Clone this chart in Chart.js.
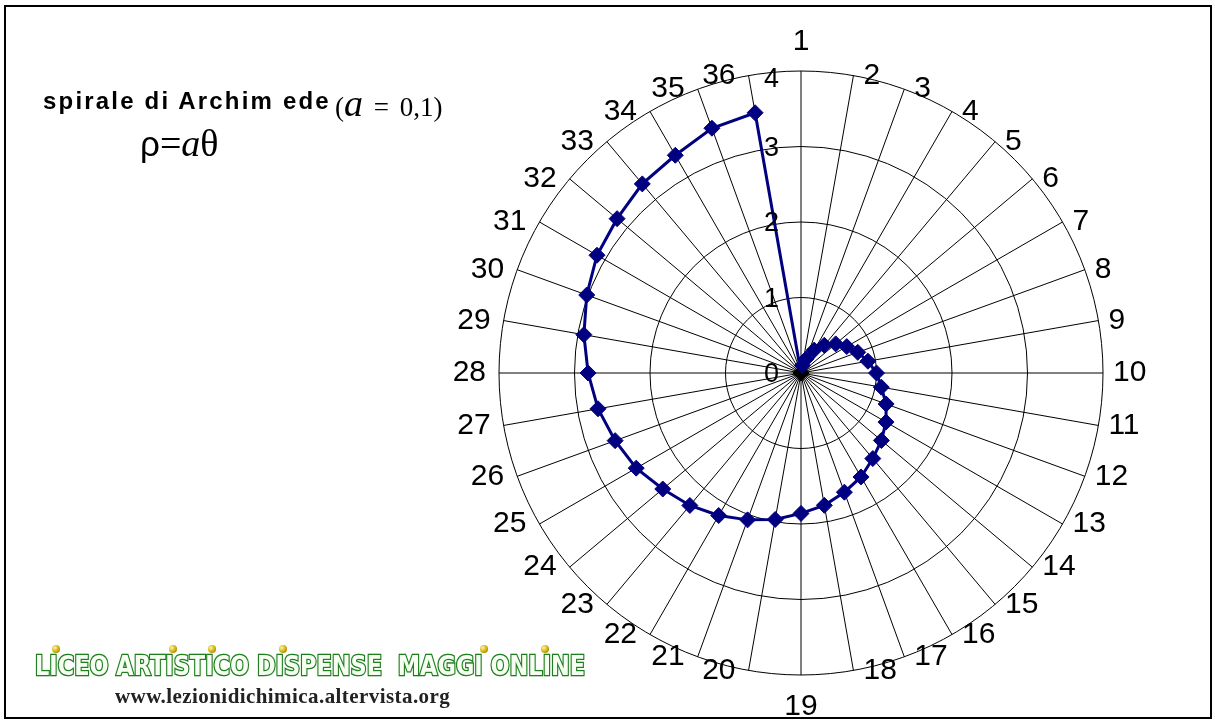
<!DOCTYPE html>
<html>
<head>
<meta charset="utf-8">
<script src="https://cdn.jsdelivr.net/npm/chart.js@4"></script>
<style>
  body { margin: 0; background: #fff; }
  #wrap { position: relative; width: 1215px; height: 722px; overflow: hidden; }
  #frame { position: absolute; left: 4px; top: 5px; width: 1204px; height: 710px; border: 2px solid #000; pointer-events: none; }
  canvas { position: absolute; left: 0; top: 0; }
  .txt { position: absolute; white-space: nowrap; color: #000; }
  #title { left: 43px; top: 87px; font: bold 24px "Liberation Sans", Arial, sans-serif; }
  #eq { left: 335px; top: 81px; font: 27px "Liberation Serif", "Times New Roman", serif; word-spacing: 4px; }
  #eq .it { font-style: italic; font-size: 38px; }
  #formula { left: 140px; top: 121px; font: 38px "Liberation Serif", "Times New Roman", serif; }
  #formula .rho { font-family: "Liberation Sans", Arial, sans-serif; font-size: 35px; }
  #logo { left: 35px; top: 651px; font: 900 24px "DejaVu Sans", Arial, sans-serif; color: #f6fff2;
          -webkit-text-stroke: 2.4px #1b7a1b; paint-order: stroke fill; text-shadow: 0 0 2px #2f8f2f;
          transform-origin: 0 0; }
  .dot { position: absolute; width: 8px; height: 8px; border-radius: 50%; background: radial-gradient(circle at 35% 35%, #fff7a0, #c9a400 60%, #7a6000); }
  #url { left: 115px; top: 684px; font: bold 21px "Liberation Serif", "Times New Roman", serif; color: #222; }
</style>
</head>
<body>
<div id="wrap">
  <canvas id="myChart" width="1215" height="722"></canvas>
  <div class="txt" id="title">spirale di Archim ede</div>
  <div class="txt" id="eq">(<span class="it">a</span> = 0,1)</div>
  <div class="txt" id="formula"><span class="rho">ρ</span>=<i>a</i>θ</div>
  <div class="txt" id="logo">LICEO ARTISTICO DISPENSE&nbsp; MAGGI ONLINE</div>
  <div class="dot" style="left:52px;top:645px"></div>
  <div class="dot" style="left:169px;top:645px"></div>
  <div class="dot" style="left:208px;top:645px"></div>
  <div class="dot" style="left:279px;top:645px"></div>
  <div class="dot" style="left:480px;top:645px"></div>
  <div class="dot" style="left:541px;top:645px"></div>
  <div class="txt" id="url">www.lezionidichimica.altervista.org</div>
  <div id="frame"></div>
</div>
<script>
var categories = ['1', '2', '3', '4', '5', '6', '7', '8', '9', '10', '11', '12',
    '13', '14', '15', '16', '17', '18', '19', '20', '21', '22', '23', '24',
    '25', '26', '27', '28', '29', '30', '31', '32', '33', '34', '35', '36'];
var rho = [0, 0.1, 0.2, 0.35, 0.48, 0.6, 0.7, 0.8, 0.9, 1.0, 1.08, 1.2,
    1.3, 1.39, 1.48, 1.59, 1.68, 1.78, 1.86, 1.97, 2.07, 2.18, 2.29, 2.39,
    2.52, 2.62, 2.73, 2.82, 2.92, 3.02, 3.12, 3.18, 3.27, 3.33, 3.45, 3.5];
var tickValues = [0, 1, 2, 3, 4];
var tickLabels = ['0', '1', '2', '3', '4'];

// spread a text line so it covers the same width as in the picture
function spreadTo(id, w) {
    var el = document.getElementById(id);
    var n = el.textContent.length;
    el.style.letterSpacing = ((w - el.offsetWidth) / n) + 'px';
}
spreadTo('title', 288);
spreadTo('url', 335);
var logo = document.getElementById('logo');
logo.style.transform = 'scale(' + (550 / logo.offsetWidth) + ', 1.08)';

// labels drawn the Excel way: beside the spoke ends, ticks left of the vertical axis
var excelLabels = {
    id: 'excelLabels',
    afterDraw: function(chart) {
        var s = chart.scales.r;
        var ctx = chart.ctx;
        ctx.save();
        ctx.fillStyle = '#000';
        ctx.font = '30px "Liberation Sans", Arial, sans-serif';
        categories.forEach(function(lab, i) {
            var p = s.getPointPosition(i, s.drawingArea);
            var sin = Math.sin(s.getIndexAngle(i));
            if (i === 0) {
                ctx.textAlign = 'center';
                ctx.textBaseline = 'alphabetic';
                ctx.fillText(lab, p.x, p.y - 21);
            } else if (i === categories.length / 2) {
                ctx.textAlign = 'center';
                ctx.textBaseline = 'alphabetic';
                ctx.fillText(lab, p.x, p.y + 40);
            } else {
                ctx.textBaseline = 'middle';
                ctx.textAlign = sin > 0 ? 'left' : 'right';
                ctx.fillText(lab, p.x + (sin > 0 ? 10 : -13), p.y);
            }
        });
        ctx.font = '27px "Liberation Sans", Arial, sans-serif';
        ctx.textAlign = 'right';
        ctx.textBaseline = 'middle';
        tickValues.forEach(function(v, k) {
            var d = s.getDistanceFromCenterForValue(v);
            var dy = k === tickValues.length - 1 ? 9 : 2;
            ctx.fillText(tickLabels[k], s.xCenter - 22, s.yCenter - d + dy);
        });
        ctx.restore();
    }
};

var ctx = document.getElementById('myChart').getContext('2d');
var myChart = new Chart(ctx, {
    type: 'radar',
    data: {
        labels: categories,
        datasets: [{
            label: 'spirale',
            data: rho,
            borderColor: '#000080',
            borderWidth: 3,
            fill: false,
            tension: 0,
            pointStyle: 'rectRot',
            pointRadius: 8,
            pointBackgroundColor: function(c) { return c.dataIndex === 0 ? '#000' : '#000080'; },
            pointBorderColor: function(c) { return c.dataIndex === 0 ? '#000' : '#000080'; },
            pointBorderWidth: 1
        }]
    },
    options: {
        responsive: false,
        animation: false,
        layout: {
            padding: { left: 499, right: 112, top: 71, bottom: 47 }
        },
        plugins: {
            legend: { display: false },
            tooltip: { enabled: false }
        },
        scales: {
            r: {
                min: 0,
                max: 4,
                ticks: { stepSize: 1, display: false },
                grid: { circular: true, color: '#000', lineWidth: 1 },
                angleLines: { color: '#000', lineWidth: 1 },
                pointLabels: { display: false }
            }
        }
    },
    plugins: [excelLabels]
});
</script>
</body>
</html>
